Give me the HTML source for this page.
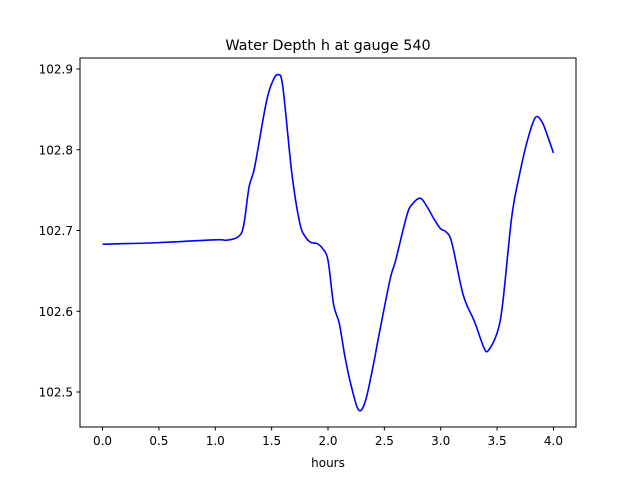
<!DOCTYPE html>
<html><head><meta charset="utf-8"><style>
body{margin:0;background:#fff}
svg text{font-family:"DejaVu Sans","Liberation Sans",sans-serif;fill:#000}
</style></head><body>
<svg width="640" height="480" viewBox="0 0 640 480">
<rect x="0" y="0" width="640" height="480" fill="#fff"/>
<text x="328" y="50" font-size="14.4" text-anchor="middle">Water Depth h at gauge 540</text>
<g id="xticks"></g><g id="yticks"></g>
<path id="line" fill="none" stroke="#0000ff" stroke-width="1.6"/>
<rect x="80" y="58" width="496" height="369" fill="none" stroke="#000" stroke-width="1"/>
<text x="328" y="467" font-size="12" text-anchor="middle">hours</text>
</svg>
<script>
const hours=[0,0.5,1.0,1.1,1.2,1.25,1.3,1.35,1.45,1.51,1.56,1.6,1.68,1.75,1.8,1.85,1.9,1.95,2.0,2.05,2.1,2.15,2.2,2.27,2.33,2.4,2.45,2.55,2.6,2.7,2.75,2.82,2.88,2.95,3.0,3.05,3.1,3.2,3.3,3.38,3.42,3.5,3.55,3.63,3.7,3.77,3.84,3.9,3.95,4.0];
const depth=[102.683,102.685,102.6885,102.688,102.692,102.705,102.754,102.779,102.857,102.885,102.893,102.877,102.770,102.709,102.692,102.685,102.684,102.678,102.663,102.608,102.585,102.544,102.511,102.478,102.488,102.532,102.569,102.639,102.663,102.719,102.733,102.740,102.729,102.712,102.702,102.698,102.684,102.620,102.587,102.556,102.551,102.573,102.610,102.717,102.770,102.812,102.840,102.834,102.816,102.796];
const xTicks=["0.0","0.5","1.0","1.5","2.0","2.5","3.0","3.5","4.0"];
const yTicks=["102.5","102.6","102.7","102.8","102.9"];
const NS="http://www.w3.org/2000/svg";
function sx(v){return 80+(v+0.2)/4.4*496;}
function sy(v){return 69+(102.9-v)*807.5;}
const xg=document.getElementById('xticks');
xTicks.forEach(t=>{const x=sx(parseFloat(t));
 const l=document.createElementNS(NS,'line');l.setAttribute('x1',x);l.setAttribute('x2',x);l.setAttribute('y1',427);l.setAttribute('y2',430.5);l.setAttribute('stroke','#000');
 
 
 xg.appendChild(l);
 const tx=document.createElementNS(NS,'text');tx.setAttribute('x',x);tx.setAttribute('y',445);tx.setAttribute('font-size','12');tx.setAttribute('text-anchor','middle');tx.textContent=t;
 
 
 xg.appendChild(tx);});
const yg=document.getElementById('yticks');
yTicks.forEach(t=>{const y=sy(parseFloat(t));
 const l=document.createElementNS(NS,'line');l.setAttribute('x1',76.5);l.setAttribute('x2',80);l.setAttribute('y1',y);l.setAttribute('y2',y);l.setAttribute('stroke','#000');
 
 
 yg.appendChild(l);
 const tx=document.createElementNS(NS,'text');tx.setAttribute('x',73);tx.setAttribute('y',y+4.5);tx.setAttribute('font-size','12');tx.setAttribute('text-anchor','end');tx.textContent=t;
 
 
 yg.appendChild(tx);});
const P=hours.map((h,i)=>[sx(h),sy(depth[i])]);
let d='M'+P[0][0]+','+P[0][1];
for(let i=0;i<P.length-1;i++){const p0=P[i-1]||P[i],p1=P[i],p2=P[i+1],p3=P[i+2]||P[i+1];
 const c1=[p1[0]+(p2[0]-p0[0])/6,p1[1]+(p2[1]-p0[1])/6],c2=[p2[0]-(p3[0]-p1[0])/6,p2[1]-(p3[1]-p1[1])/6];
 d+=' C'+c1+' '+c2+' '+p2;}
document.getElementById('line').setAttribute('d',d);
</script>
</body></html>
